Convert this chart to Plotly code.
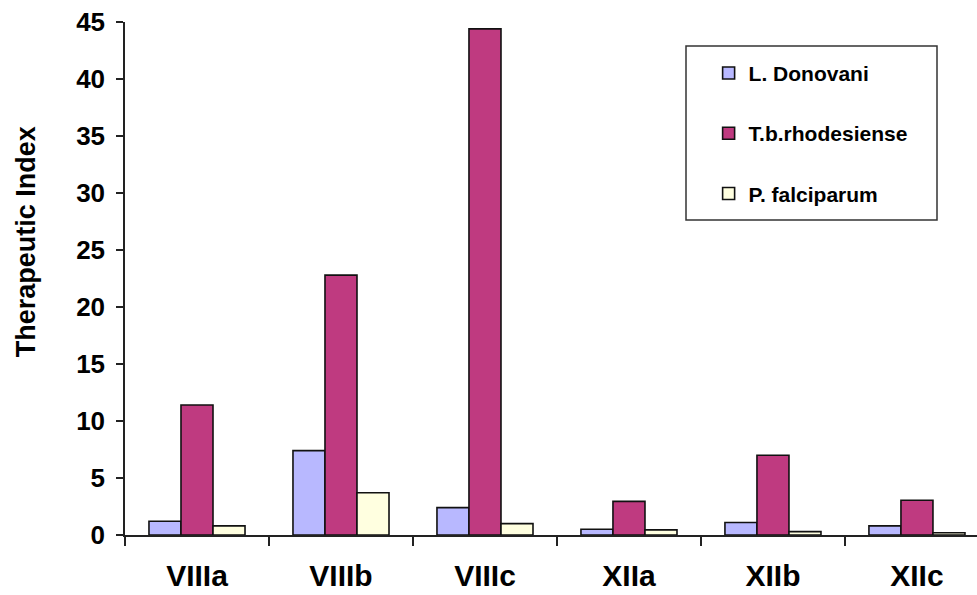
import plotly.graph_objects as go

categories = ["VIIIa", "VIIIb", "VIIIc", "XIIa", "XIIb", "XIIc"]
l_donovani = [1.2, 7.4, 2.4, 0.5, 1.1, 0.8]
tb_rhodesiense = [11.4, 22.8, 44.4, 2.95, 7.0, 3.05]
p_falciparum = [0.8, 3.7, 1.0, 0.45, 0.3, 0.2]
series_names = ["L. Donovani", "T.b.rhodesiense", "P. falciparum"]
y_ticks = [0, 5, 10, 15, 20, 25, 30, 35, 40, 45]

colors = ["#b8b8ff", "#bf3a80", "#ffffe0"]
FONT = "Liberation Sans, Arial, sans-serif"

fig = go.Figure()
for i, (name, vals) in enumerate(zip(series_names, [l_donovani, tb_rhodesiense, p_falciparum])):
    fig.add_trace(go.Bar(
        x=categories, y=vals, name=name,
        marker=dict(color=colors[i], line=dict(color="#111111", width=1.6)),
        legendgroup=f"g{i}",
    ))

fig.update_layout(
    width=977, height=595,
    margin=dict(l=125, r=0, t=22, b=60),
    paper_bgcolor="white", plot_bgcolor="white",
    barmode="group", bargap=0.333, bargroupgap=0,
    font=dict(family=FONT, color="black"),
    showlegend=True,
    legend=dict(
        x=0.685, y=0.94, xanchor="left", yanchor="top",
        bgcolor="rgba(0,0,0,0)", borderwidth=0,
        font=dict(family=FONT, size=21, color="black", weight="bold"),
        tracegroupgap=30,
    ),
    xaxis=dict(
        range=[-0.5, 5.417],
        showline=True, linecolor="#222222", linewidth=1.5,
        ticks="outside", ticklen=9, tickcolor="#222222", tickwidth=1.5,
        tickson="boundaries",
        tickfont=dict(family=FONT, size=30, color="black", weight="bold"),
        ticklabelstandoff=13,
        showgrid=False, zeroline=False,
    ),
    yaxis=dict(
        range=[0, 45],
        tickvals=y_ticks,
        showline=True, linecolor="#222222", linewidth=1.5,
        ticks="outside", ticklen=7, tickcolor="#222222", tickwidth=1.5,
        tickfont=dict(family=FONT, size=26, color="black", weight="bold"),
        ticklabelstandoff=6,
        showgrid=False, zeroline=False,
    ),
    annotations=[dict(
        text="Therapeutic Index", textangle=-90,
        xref="paper", yref="paper", x=-0.116, y=0.571,
        xanchor="center", yanchor="middle", showarrow=False,
        font=dict(family=FONT, size=27, color="black", weight="bold"),
    )],
    shapes=[dict(
        type="rect", xref="paper", yref="paper",
        x0=(686 - 125) / 852, x1=(937 - 125) / 852,
        y0=(535 - 220) / 513, y1=(535 - 46) / 513,
        line=dict(color="#333333", width=1.5), fillcolor="rgba(0,0,0,0)",
        layer="below",
    )],
)

fig.write_html(
    "out.html",
    config={"displayModeBar": False},
    post_script="document.body.style.margin='0px';document.body.style.overflow='hidden';",
)
